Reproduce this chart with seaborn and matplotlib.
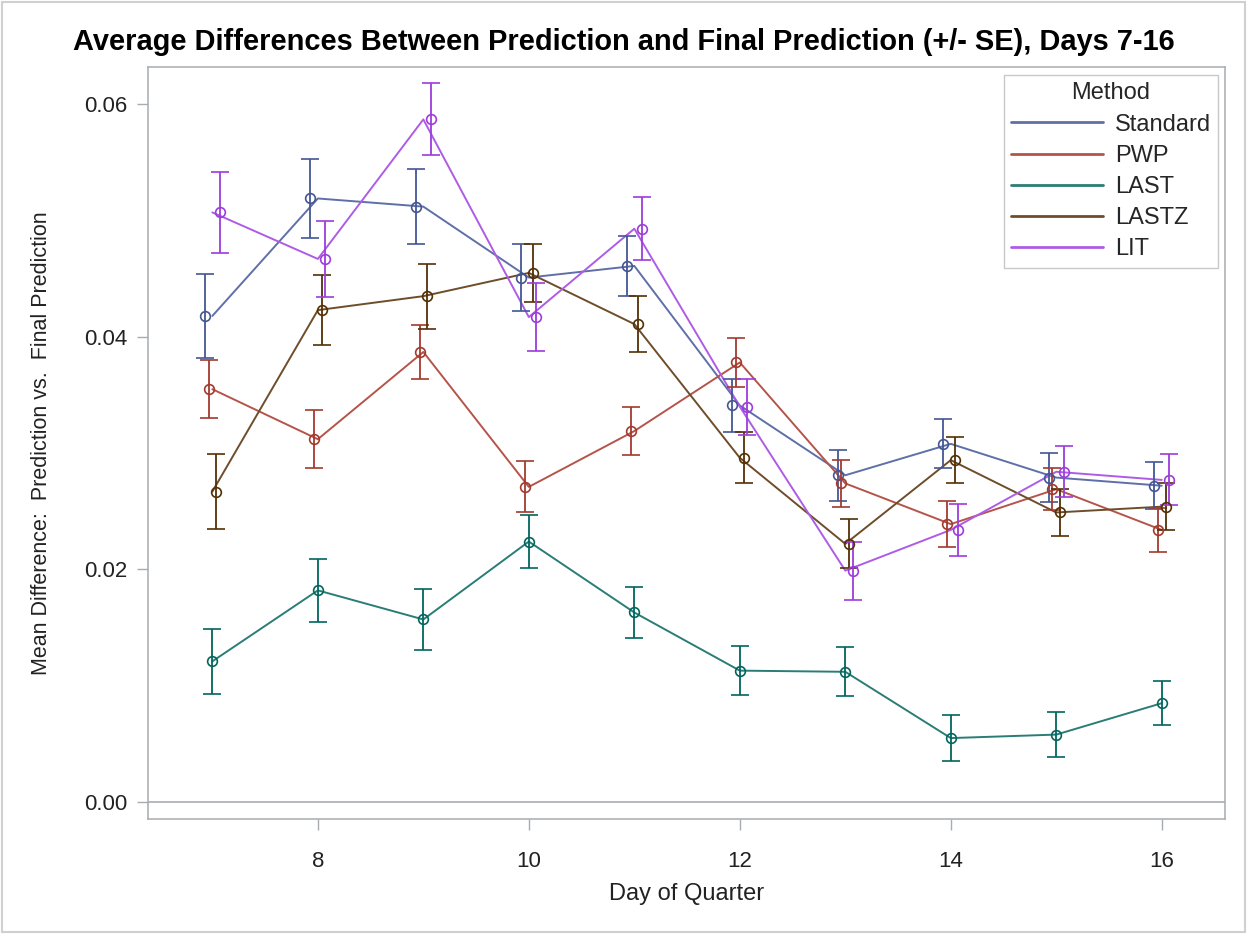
import pandas as pd
import seaborn as sns
import matplotlib.pyplot as plt
from matplotlib.patches import Rectangle


days = [7, 8, 9, 10, 11, 12, 13, 14, 15, 16]
methods = ['Standard', 'PWP', 'LAST', 'LASTZ', 'LIT']
colors = ['#445694', '#A23A2E', '#01665E', '#543005', '#9D3CDB']
line_colors = ['#5F6FA8', '#B5544A', '#2A7D76', '#6E4D2A', '#AE5CE6']

# means and standard errors
standard_mean = [0.0418, 0.0519, 0.0512, 0.0451, 0.0461, 0.0341, 0.0281, 0.0308, 0.0279, 0.0272]
standard_se = [0.0036, 0.0034, 0.0032, 0.0029, 0.0026, 0.0023, 0.0022, 0.0021, 0.0021, 0.0020]
pwp_mean = [0.0355, 0.0312, 0.0387, 0.0271, 0.0319, 0.0378, 0.0274, 0.0239, 0.0269, 0.0234]
pwp_se = [0.0025, 0.0025, 0.0023, 0.0022, 0.0021, 0.0021, 0.0020, 0.0020, 0.0018, 0.0019]
last_mean = [0.0121, 0.0182, 0.0157, 0.0224, 0.0163, 0.0113, 0.0112, 0.0055, 0.0058, 0.0085]
last_se = [0.0028, 0.0027, 0.0026, 0.0023, 0.0022, 0.0021, 0.0021, 0.0020, 0.0019, 0.0019]
lastz_mean = [0.0267, 0.0423, 0.0435, 0.0455, 0.0411, 0.0296, 0.0222, 0.0294, 0.0249, 0.0254]
lastz_se = [0.0032, 0.0030, 0.0028, 0.0025, 0.0024, 0.0022, 0.0021, 0.0020, 0.0020, 0.0020]
lit_mean = [0.0507, 0.0467, 0.0587, 0.0417, 0.0493, 0.0340, 0.0199, 0.0234, 0.0284, 0.0277]
lit_se = [0.0035, 0.0033, 0.0031, 0.0029, 0.0027, 0.0024, 0.0025, 0.0022, 0.0022, 0.0022]

means = [standard_mean, pwp_mean, last_mean, lastz_mean, lit_mean]
ses = [standard_se, pwp_se, last_se, lastz_se, lit_se]

rows = []
for i, m in enumerate(methods):
    for d, mu, se in zip(days, means[i], ses[i]):
        rows.append({'Day': d, 'Method': m, 'Mean': mu, 'SE': se,
                     'DayDodge': d + (i - 2) * 0.036})
df = pd.DataFrame(rows)

sns.set_theme(style='white')
plt.rcParams['font.family'] = ['Liberation Sans', 'DejaVu Sans']

fig = plt.figure(figsize=(12.47, 9.34), dpi=100)
ax = fig.add_axes([0.1187, 0.1231, 0.8637, 0.8051])

palette = dict(zip(methods, colors))
line_palette = dict(zip(methods, line_colors))
sns.lineplot(data=df, x='Day', y='Mean', hue='Method', hue_order=methods,
             palette=line_palette, linewidth=1.4, ax=ax, errorbar=None)

for m in methods:
    sub = df[df['Method'] == m]
    ax.errorbar(sub['DayDodge'], sub['Mean'], yerr=sub['SE'], fmt='o',
                color=palette[m], mfc='none', mec=palette[m], ms=7, mew=1.2,
                elinewidth=1.3, capsize=6.8, capthick=1.3, zorder=3)

ax.axhline(0, color='#A8ACB0', linewidth=1.2, zorder=1)

ax.set_xlim(6.39, 16.6)
ax.set_ylim(-0.00146, 0.0632)
ax.set_xticks([8, 10, 12, 14, 16])
ax.set_yticks([0.0, 0.02, 0.04, 0.06])
ax.set_yticklabels(['0.00', '0.02', '0.04', '0.06'])
ax.tick_params(axis='both', which='major', length=8, width=1, color='#A8ACB0',
               labelsize=16, labelcolor='#222222', left=True, bottom=True)
ax.tick_params(axis='x', pad=15)
ax.tick_params(axis='y', pad=7)
for s in ax.spines.values():
    s.set_color('#A8ACB0')
    s.set_linewidth(1.1)

ax.set_xlabel('Day of Quarter', fontsize=17, color='#222222', labelpad=8)
ax.set_ylabel('Mean Difference:  Prediction vs.  Final Prediction', fontsize=15.5,
              color='#222222', labelpad=23)

fig.suptitle('Average Differences Between Prediction and Final Prediction (+/- SE), Days 7-16',
             x=0.5, y=0.955, va='center', fontsize=20.9, fontweight='bold', color='black')

leg = ax.legend(title='Method', loc='upper right', bbox_to_anchor=(0.9935, 0.989),
                borderaxespad=0, fontsize=17, title_fontsize=17, frameon=True,
                fancybox=False, framealpha=1, edgecolor='#C8C8C8', handlelength=3.9,
                handletextpad=0.5, labelspacing=0.39, borderpad=0.3)
leg.get_frame().set_linewidth(1.0)
for line in leg.get_lines():
    line.set_linewidth(2.0)

fig.patches.append(Rectangle((0.002, 0.002), 0.996, 0.996, transform=fig.transFigure,
                             fill=False, edgecolor='#D0D0D0', linewidth=1.5))

plt.savefig('out.png', dpi=100)
